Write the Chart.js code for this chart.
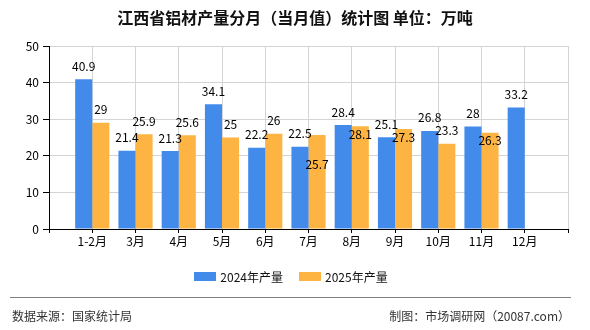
<!DOCTYPE html>
<html>
<head>
<meta charset="utf-8">
<script src="https://cdn.jsdelivr.net/npm/chart.js@4"></script>
<style>
  body { margin: 0; background: #fff; }
  #wrap { position: relative; width: 590px; height: 330px; font-family: "Noto Sans CJK SC", sans-serif; }
  #title { position: absolute; left: 0; top: 5px; width: 590px; text-align: center; font-size: 16px; font-weight: bold; color: #111; }
  #legend { position: absolute; left: 0; top: 268px; width: 582px; display: flex; justify-content: center; font-size: 12px; color: #111; }
  #legend .item { display: flex; align-items: center; margin: 0 8px; }
  #legend .box { width: 22px; height: 9px; margin-right: 4px; }
  #line { position: absolute; left: 10px; top: 297px; width: 561px; height: 0; border-top: 1px solid #808080; }
  .foot { position: absolute; top: 307px; font-size: 12px; color: #333; }
</style>
</head>
<body>
<div id="wrap">
  <canvas id="myChart" width="590" height="330"></canvas>
  <div id="title">江西省铝材产量分月（当月值）统计图 单位：万吨</div>
  <div id="legend"></div>
  <div id="line"></div>
  <div class="foot" style="left:12px">数据来源：国家统计局</div>
  <div class="foot" style="right:20px">制图：市场调研网（20087.com）</div>
</div>
<script>
//months on the x axis
let categories = ['1-2月', '3月', '4月', '5月', '6月', '7月', '8月', '9月', '10月', '11月', '12月'];
//output in 10k tons
let output2024 = [40.9, 21.4, 21.3, 34.1, 22.2, 22.5, 28.4, 25.1, 26.8, 28, 33.2];
let output2025 = [29, 25.9, 25.6, 25, 26, 25.7, 28.1, 27.3, 23.3, 26.3, null];
let seriesNames = ['2024年产量', '2025年产量'];
let colors = ['#428bea', '#fdb443'];
let yTicks = [0, 10, 20, 30, 40, 50];

//the axis has one empty slot on each side of the months
let labels = ['', ...categories, ''];
let pad = arr => [null, ...arr, null];

//value labels over the bars, pushed down when they hit a label already drawn
let valueLabels = {
  id: 'valueLabels',
  afterDatasetsDraw(chart) {
    let ctx = chart.ctx;
    let placed = [];
    ctx.save();
    ctx.font = '12px "Noto Sans CJK SC"';
    ctx.fillStyle = '#000';
    ctx.textAlign = 'center';
    ctx.textBaseline = 'middle';
    chart.data.datasets.forEach((ds, i) => {
      chart.getDatasetMeta(i).data.forEach((bar, j) => {
        let v = ds.data[j];
        if (v === null || v === undefined) return;
        let text = String(v);
        let w = ctx.measureText(text).width;
        let x = bar.x;
        let y = bar.y - 13;
        let hit = () => placed.some(b => x - w / 2 < b.x2 && x + w / 2 > b.x1 && y - 6 < b.y2 && y + 6 > b.y1);
        while (hit()) y += 21;
        placed.push({ x1: x - w / 2, x2: x + w / 2, y1: y - 6, y2: y + 6 });
        ctx.fillText(text, x, y);
      });
    });
    ctx.restore();
  }
};

let chart = new Chart(document.getElementById('myChart').getContext('2d'), {
  type: 'bar',
  data: {
    labels: labels,
    datasets: [
      { label: seriesNames[0], data: pad(output2024), backgroundColor: colors[0] },
      { label: seriesNames[1], data: pad(output2025), backgroundColor: colors[1] }
    ]
  },
  options: {
    responsive: false,
    animation: false,
    categoryPercentage: 0.79,
    barPercentage: 1,
    layout: { padding: { top: 46, right: 22, bottom: 81, left: 0 } },
    plugins: { legend: { display: false }, title: { display: false }, tooltip: { enabled: false } },
    scales: {
      x: {
        offset: false,
        grid: { offset: false, color: '#d4d4d4', tickColor: '#000', tickLength: 4 },
        border: { color: '#000' },
        ticks: { color: '#000', font: { size: 12, family: 'Noto Sans CJK SC' }, padding: 1, maxRotation: 0, autoSkip: false },
        afterFit: s => { s.height = 20; }
      },
      y: {
        min: 0,
        max: 50,
        afterBuildTicks: s => { s.ticks = yTicks.map(v => ({ value: v })); },
        grid: { color: '#d4d4d4', tickColor: '#000', tickLength: 6 },
        border: { color: '#000' },
        ticks: { color: '#000', font: { size: 12, family: 'Noto Sans CJK SC' }, padding: 4 },
        afterFit: s => { s.width = 49; }
      }
    }
  },
  plugins: [valueLabels]
});

//legend built from the datasets
let legend = document.getElementById('legend');
chart.data.datasets.forEach(ds => {
  let item = document.createElement('div');
  item.className = 'item';
  item.innerHTML = '<span class="box" style="background:' + ds.backgroundColor + '"></span><span>' + ds.label + '</span>';
  legend.appendChild(item);
});
</script>
</body>
</html>
